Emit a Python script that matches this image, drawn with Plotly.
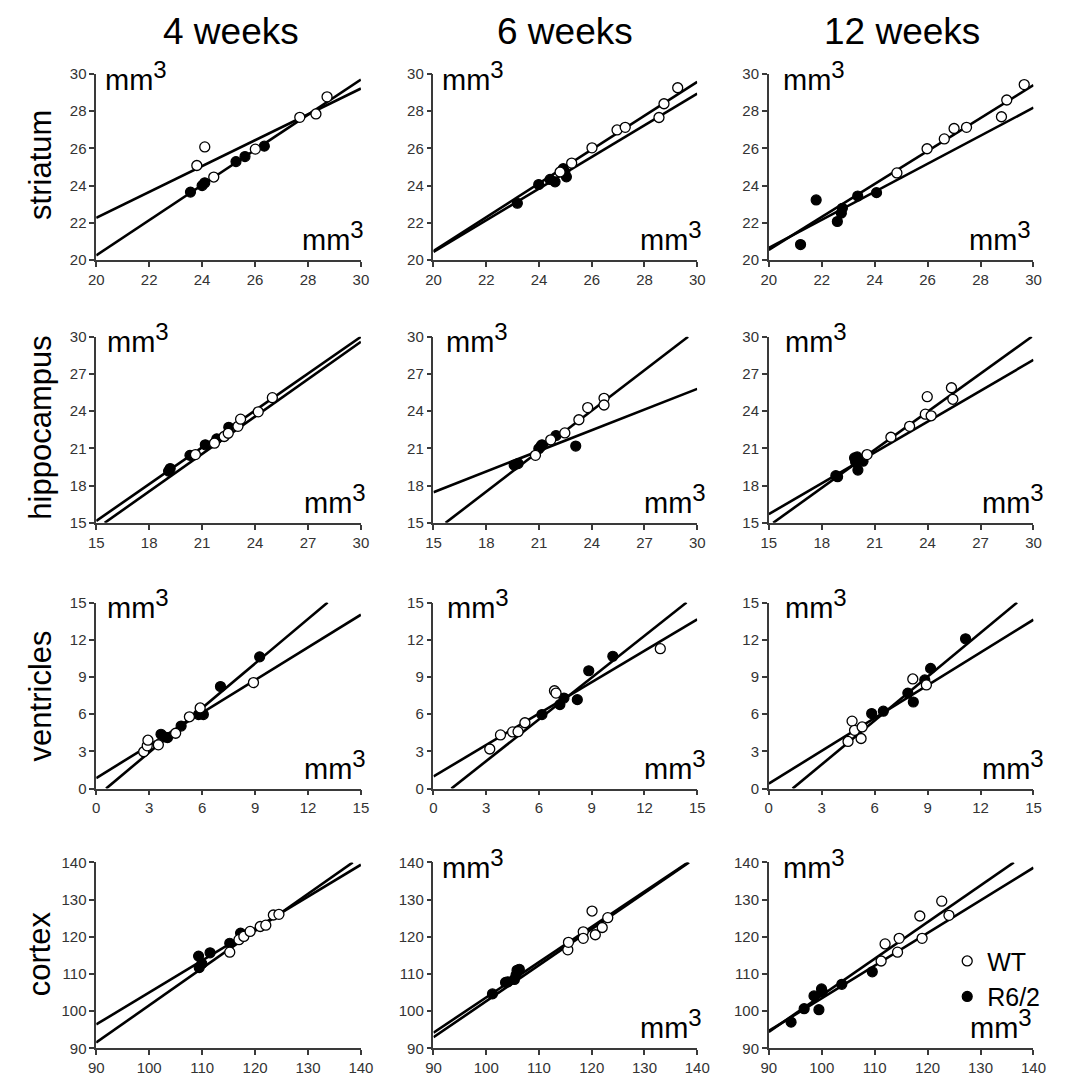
import plotly.graph_objects as go

W, H = 1071, 1085

# ---------------- data ----------------
weeks = ["4 weeks", "6 weeks", "12 weeks"]
regions = ["striatum", "hippocampus", "ventricles", "cortex"]

striatum_ticks = [20, 22, 24, 26, 28, 30]
hippocampus_ticks = [15, 18, 21, 24, 27, 30]
ventricles_ticks = [0, 3, 6, 9, 12, 15]
cortex_ticks = [90, 100, 110, 120, 130, 140]

# striatum
str4_wt_x = [23.80, 24.10, 24.44, 26.01, 27.69, 28.30, 28.72]
str4_wt_y = [25.08, 26.08, 24.46, 25.96, 27.67, 27.85, 28.77]
str4_r6_x = [23.56, 24.00, 24.10, 25.28, 25.62, 26.35]
str4_r6_y = [23.65, 24.00, 24.15, 25.29, 25.56, 26.12]
str4_fit_x = [[20, 30], [20, 30]]
str4_fit_y = [[20.25, 29.70], [22.26, 29.22]]

str6_wt_x = [24.80, 25.24, 26.01, 26.96, 27.27, 28.55, 28.74, 29.26]
str6_wt_y = [24.73, 25.21, 26.03, 26.99, 27.13, 27.66, 28.40, 29.26]
str6_r6_x = [23.18, 23.99, 24.42, 24.61, 24.92, 24.98, 25.04]
str6_r6_y = [23.05, 24.06, 24.33, 24.20, 24.91, 24.73, 24.47]
str6_fit_x = [[20, 30], [20, 30]]
str6_fit_y = [[20.48, 29.57], [20.43, 28.94]]

str12_wt_x = [24.84, 25.98, 26.63, 27.00, 27.47, 28.79, 28.99, 29.65]
str12_wt_y = [24.68, 25.98, 26.51, 27.07, 27.13, 27.70, 28.60, 29.43]
str12_r6_x = [21.20, 21.79, 22.59, 22.74, 22.78, 23.36, 24.07]
str12_r6_y = [20.83, 23.23, 22.07, 22.52, 22.78, 23.44, 23.62]
str12_fit_x = [[20, 30], [20, 30]]
str12_fit_y = [[20.55, 29.40], [20.65, 28.19]]

# hippocampus
hip4_wt_x = [20.62, 21.70, 22.25, 22.48, 23.03, 23.18, 24.18, 24.98]
hip4_wt_y = [20.50, 21.42, 21.96, 22.22, 22.78, 23.36, 23.95, 25.09]
hip4_r6_x = [19.10, 19.19, 20.31, 21.18, 21.83, 22.51]
hip4_r6_y = [19.17, 19.38, 20.44, 21.29, 21.77, 22.70]
hip4_fit_x = [[15, 30], [15.48, 30]]
hip4_fit_y = [[15.15, 30.0], [15.0, 29.60]]

hip6_wt_x = [20.80, 21.67, 22.47, 23.27, 23.77, 24.70, 24.70]
hip6_wt_y = [20.44, 21.69, 22.25, 23.31, 24.29, 25.04, 24.50]
hip6_r6_x = [19.59, 19.81, 20.99, 21.10, 21.17, 21.97, 23.09]
hip6_r6_y = [19.65, 19.78, 20.97, 21.15, 21.29, 22.04, 21.19]
hip6_fit_x = [[15.69, 29.48], [15, 30]]
hip6_fit_y = [[15.0, 30.0], [17.47, 25.80]]

hip12_wt_x = [20.57, 21.92, 22.98, 23.87, 23.98, 24.20, 25.35, 25.43]
hip12_wt_y = [20.50, 21.90, 22.78, 23.76, 25.17, 23.63, 25.89, 24.96]
hip12_r6_x = [18.80, 18.90, 19.86, 19.92, 20.01, 20.05, 20.34]
hip12_r6_y = [18.80, 18.72, 20.23, 19.91, 20.31, 19.25, 19.97]
hip12_fit_x = [[15.25, 29.9], [15, 30]]
hip12_fit_y = [[15.0, 30.0], [15.70, 28.14]]

# ventricles
ven4_wt_x = [2.69, 2.89, 2.93, 3.52, 4.50, 5.28, 5.89, 8.91]
ven4_wt_y = [2.97, 3.45, 3.90, 3.53, 4.46, 5.79, 6.50, 8.55]
ven4_r6_x = [3.67, 3.85, 4.04, 4.81, 5.80, 6.07, 7.04, 9.26]
ven4_r6_y = [4.38, 4.17, 4.11, 5.04, 5.97, 5.97, 8.23, 10.62]
ven4_fit_x = [[0.56, 13.11], [0, 15]]
ven4_fit_y = [[0.0, 15.0], [0.85, 14.02]]

ven6_wt_x = [3.20, 3.81, 4.50, 4.81, 5.20, 6.88, 6.97, 12.90]
ven6_wt_y = [3.19, 4.33, 4.57, 4.59, 5.31, 7.89, 7.70, 11.28]
ven6_r6_x = [6.17, 7.19, 7.42, 8.18, 8.83, 10.20]
ven6_r6_y = [5.97, 6.77, 7.30, 7.17, 9.50, 10.67]
ven6_fit_x = [[1.02, 14.39], [0, 15]]
ven6_fit_y = [[0.0, 15.0], [0.98, 13.65]]

ven12_wt_x = [4.49, 4.72, 4.86, 5.29, 5.23, 8.16, 8.93]
ven12_wt_y = [3.80, 5.44, 4.70, 4.97, 4.04, 8.84, 8.36]
ven12_r6_x = [5.83, 6.49, 7.88, 8.19, 8.84, 9.17, 11.15]
ven12_r6_y = [6.05, 6.24, 7.70, 6.98, 8.76, 9.69, 12.08]
ven12_fit_x = [[1.35, 14.07], [0, 15]]
ven12_fit_y = [[0.0, 15.0], [0.40, 13.62]]

# cortex
ctx4_wt_x = [115.22, 116.96, 117.88, 119.06, 120.98, 122.03, 123.46, 124.51]
ctx4_wt_y = [115.88, 119.24, 120.12, 121.45, 122.78, 123.14, 125.87, 126.04]
ctx4_r6_x = [109.33, 109.45, 109.95, 111.50, 115.22, 117.26]
ctx4_r6_y = [114.82, 111.73, 112.79, 115.70, 118.27, 121.00]
ctx4_fit_x = [[90, 138.45], [90, 140]]
ctx4_fit_y = [[91.59, 140.0], [96.45, 139.40]]

ctx6_wt_x = [115.47, 115.59, 118.39, 118.39, 120.06, 120.68, 121.99, 123.04]
ctx6_wt_y = [116.50, 118.53, 121.36, 119.59, 126.93, 120.56, 122.51, 125.16]
ctx6_r6_x = [101.18, 103.66, 104.10, 105.34, 105.65, 105.84, 106.27]
ctx6_r6_y = [104.66, 107.76, 107.90, 108.55, 109.70, 111.00, 111.29]
ctx6_fit_x = [[90, 138.26], [90, 138.45]]
ctx6_fit_y = [[94.24, 140.0], [93.00, 140.0]]

ctx12_wt_x = [111.22, 111.97, 114.32, 114.63, 118.53, 118.96, 122.67, 124.03]
ctx12_wt_y = [113.50, 118.09, 115.88, 119.59, 125.60, 119.59, 129.58, 125.78]
ctx12_r6_x = [94.21, 96.68, 98.54, 99.47, 99.96, 100.09, 103.80, 109.55]
ctx12_r6_y = [97.07, 100.69, 104.13, 100.42, 105.99, 105.30, 107.24, 110.60]
ctx12_fit_x = [[90, 136.29], [90, 140]]
ctx12_fit_y = [[94.42, 140.0], [94.70, 138.59]]

panels = [
    [(str4_wt_x, str4_wt_y, str4_r6_x, str4_r6_y, str4_fit_x, str4_fit_y),
     (str6_wt_x, str6_wt_y, str6_r6_x, str6_r6_y, str6_fit_x, str6_fit_y),
     (str12_wt_x, str12_wt_y, str12_r6_x, str12_r6_y, str12_fit_x, str12_fit_y)],
    [(hip4_wt_x, hip4_wt_y, hip4_r6_x, hip4_r6_y, hip4_fit_x, hip4_fit_y),
     (hip6_wt_x, hip6_wt_y, hip6_r6_x, hip6_r6_y, hip6_fit_x, hip6_fit_y),
     (hip12_wt_x, hip12_wt_y, hip12_r6_x, hip12_r6_y, hip12_fit_x, hip12_fit_y)],
    [(ven4_wt_x, ven4_wt_y, ven4_r6_x, ven4_r6_y, ven4_fit_x, ven4_fit_y),
     (ven6_wt_x, ven6_wt_y, ven6_r6_x, ven6_r6_y, ven6_fit_x, ven6_fit_y),
     (ven12_wt_x, ven12_wt_y, ven12_r6_x, ven12_r6_y, ven12_fit_x, ven12_fit_y)],
    [(ctx4_wt_x, ctx4_wt_y, ctx4_r6_x, ctx4_r6_y, ctx4_fit_x, ctx4_fit_y),
     (ctx6_wt_x, ctx6_wt_y, ctx6_r6_x, ctx6_r6_y, ctx6_fit_x, ctx6_fit_y),
     (ctx12_wt_x, ctx12_wt_y, ctx12_r6_x, ctx12_r6_y, ctx12_fit_x, ctx12_fit_y)],
]
row_ticks = [striatum_ticks, hippocampus_ticks, ventricles_ticks, cortex_ticks]

# ---------------- layout geometry (pixels) ----------------
col_px = [(90, 360), (434, 703), (776, 1046)]
row_px = [(66, 255), (333, 522), (603, 792), (867, 1056)]
show_unit = [[True, True, True], [True, True, True], [True, True, True], [False, True, True]]
tl_dx = [[7, 7, 12], [9, 11, 15], [9, 12, 15], [7, 7, 12]]
br_dx = [[-6, -4, -12], [-4, 0, 2], [-4, 0, 2], [0, -4, -10]]

FONT = "Liberation Sans, Arial, sans-serif"
AX_COLOR = "#3a3a3a"
TICK_COLOR = "#333333"
UNIT_SIZE = 29
UNIT_TEXT = 'mm<sup><span style="font-size:24px">3</span></sup>'

def fx(p):
    return p / W

def fy(p):
    return 1 - p / H

fig = go.Figure()
annotations = []

for r in range(4):
    for c in range(3):
        idx = r * 3 + c + 1
        xa = "x" if idx == 1 else f"x{idx}"
        ya = "y" if idx == 1 else f"y{idx}"
        wt_x, wt_y, r6_x, r6_y, fit_x, fit_y = panels[r][c]
        for lx, ly in zip(fit_x, fit_y):
            fig.add_trace(go.Scatter(x=lx, y=ly, mode="lines", xaxis=xa, yaxis=ya,
                                     line=dict(color="black", width=2.6),
                                     showlegend=False, hoverinfo="skip"))
        last = (r == 3 and c == 2)
        fig.add_trace(go.Scatter(x=r6_x, y=r6_y, mode="markers", xaxis=xa, yaxis=ya,
                                 name="R6/2", legendrank=2,
                                 marker=dict(size=10, color="black",
                                             line=dict(color="black", width=1.2)),
                                 showlegend=last, cliponaxis=False))
        fig.add_trace(go.Scatter(x=wt_x, y=wt_y, mode="markers", xaxis=xa, yaxis=ya,
                                 name="WT", legendrank=1,
                                 marker=dict(size=10, color="white",
                                             line=dict(color="black", width=1.3)),
                                 showlegend=last, cliponaxis=False))
        ticks = row_ticks[r]
        L, R = col_px[c]
        T, B = row_px[r]
        axis_common = dict(showline=True, linecolor=AX_COLOR, linewidth=1.5,
                           ticks="outside", ticklen=5, tickwidth=1.5, tickcolor=AX_COLOR,
                           showgrid=False, zeroline=False,
                           tickfont=dict(family=FONT, size=15, color=TICK_COLOR),
                           tickvals=ticks, range=[ticks[0], ticks[-1]], fixedrange=True)
        fig.update_layout(**{
            ("xaxis" if idx == 1 else f"xaxis{idx}"): dict(
                domain=[fx(L), fx(R)], anchor=ya, **axis_common),
            ("yaxis" if idx == 1 else f"yaxis{idx}"): dict(
                domain=[fy(B), fy(T)], anchor=xa, **axis_common),
        })
        if show_unit[r][c]:
            mx = L + tl_dx[r][c]
            annotations.append(dict(text=UNIT_TEXT, x=fx(mx), y=fy(T + 17 + 7),
                                    xref="paper", yref="paper", xanchor="left",
                                    yanchor="bottom", showarrow=False,
                                    font=dict(family=FONT, size=UNIT_SIZE, color="black")))
            rx = R + br_dx[r][c] + 11
            annotations.append(dict(text=UNIT_TEXT, x=fx(rx), y=fy(B - 9 + 7),
                                    xref="paper", yref="paper", xanchor="right",
                                    yanchor="bottom", showarrow=False,
                                    font=dict(family=FONT, size=UNIT_SIZE, color="black")))

# column titles
title_x = [227, 568, 912]
for c in range(3):
    annotations.append(dict(text=weeks[c], x=fx(title_x[c]), y=fy(23),
                            xref="paper", yref="paper", xanchor="center", yanchor="middle",
                            showarrow=False, font=dict(family=FONT, size=37, color="black")))
# row labels
row_label_y = [158, 425, 698, 960]
for r in range(4):
    annotations.append(dict(text=regions[r], x=fx(33), y=fy(row_label_y[r]),
                            xref="paper", yref="paper", xanchor="center", yanchor="middle",
                            textangle=-90, showarrow=False,
                            font=dict(family=FONT, size=31, color="black")))

fig.update_layout(
    width=W, height=H,
    margin=dict(l=0, r=0, t=0, b=0),
    paper_bgcolor="white", plot_bgcolor="white",
    annotations=annotations,
    showlegend=True,
    legend=dict(x=fx(958), y=fy(944), xanchor="left", yanchor="top",
                bgcolor="rgba(0,0,0,0)", font=dict(family=FONT, size=25, color="black"),
                itemwidth=30, tracegroupgap=0),
    font=dict(family=FONT),
)

fig.write_html("out.html", config={"displayModeBar": False},
               post_script="document.body.style.margin='0px';")
